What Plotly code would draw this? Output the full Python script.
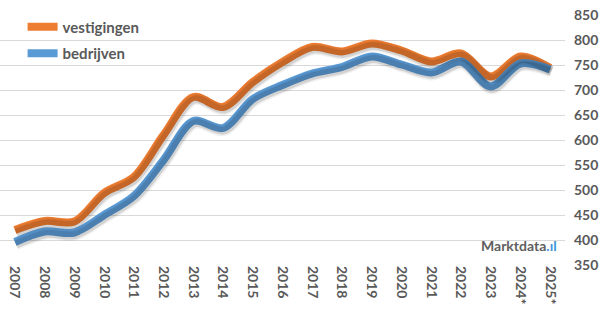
import plotly.graph_objects as go

years = ["2007", "2008", "2009", "2010", "2011", "2012", "2013", "2014", "2015", "2016",
         "2017", "2018", "2019", "2020", "2021", "2022", "2023", "2024*", "2025*"]
vestigingen = [420, 438, 437, 494, 526, 610, 686, 666, 716, 756,
               786, 777, 793, 779, 757, 773, 727, 767, 744]
bedrijven = [396, 417, 415, 450, 488, 560, 638, 624, 682, 710,
             733, 746, 767, 751, 735, 757, 707, 753, 741]
y_ticks = [350, 400, 450, 500, 550, 600, 650, 700, 750, 800, 850]

ORANGE = "#ED7D31"
BLUE = "#5B9BD5"
GRAY = "#595959"
FONT = "Lato"

fig = go.Figure()

# soft drop shadows (drawn on slightly shifted overlay axes)
for vals in (bedrijven, vestigingen):
    for w, a in ((11, 0.06), (8, 0.12)):
        fig.add_trace(go.Scatter(x=years, y=vals, mode="lines",
                                 line=dict(color=f"rgba(0,0,0,{a})", width=w, shape="spline", smoothing=0.9),
                                 xaxis="x2", yaxis="y2", showlegend=False, hoverinfo="skip"))

fig.add_trace(go.Scatter(x=years, y=vestigingen, name="vestigingen", mode="lines", legendgroup="a",
                         line=dict(color=ORANGE, width=8, shape="spline", smoothing=0.9)))
fig.add_trace(go.Scatter(x=years, y=bedrijven, name="bedrijven", mode="lines", legendgroup="b",
                         line=dict(color=BLUE, width=8, shape="spline", smoothing=0.9)))

fig.add_annotation(text="Marktdata<span style='color:#3E95DA'>.ıl</span>", xref="paper", yref="paper",
                   x=0.99, y=0.035, xanchor="right", yanchor="bottom", showarrow=False,
                   font=dict(family=FONT, size=14, color="#606060", weight="bold"))

fig.update_layout(
    width=605, height=335,
    margin=dict(l=0, r=40, t=15, b=70),
    paper_bgcolor="white", plot_bgcolor="white",
    font=dict(family=FONT, color=GRAY),
    legend=dict(x=0.04, y=1.018, xanchor="left", yanchor="top", bgcolor="rgba(0,0,0,0)",
                traceorder="grouped", tracegroupgap=4,
                font=dict(family=FONT, size=15, color=GRAY, weight="bold")),
    xaxis=dict(type="category", categoryorder="array", categoryarray=years, range=[-0.5, 18.5],
               tickangle=90, showgrid=False, zeroline=False, showline=False, ticks="",
               tickfont=dict(family=FONT, size=14, color=GRAY, weight="bold")),
    yaxis=dict(side="right", range=[350, 850], tickvals=y_ticks, showgrid=True,
               gridcolor="#d9d9d9", gridwidth=1, zeroline=False, showline=False, ticks="",
               ticklabelstandoff=8,
               tickfont=dict(family=FONT, size=14, color=GRAY, weight="bold")),
    xaxis2=dict(type="category", categoryorder="array", categoryarray=years, overlaying="x",
                range=[-0.5 - 0.04, 18.5 - 0.04], visible=False),
    yaxis2=dict(overlaying="y", range=[350 + 5, 850 + 5], visible=False),
)

fig.write_html("out.html")
